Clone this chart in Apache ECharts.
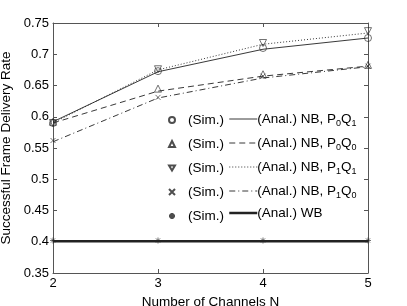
<!DOCTYPE html>
<html><head><meta charset="utf-8">
<script src="https://cdn.jsdelivr.net/npm/echarts@6/dist/echarts.min.js"></script>
<style>html,body{margin:0;padding:0;background:#fff}#c{width:407px;height:306px}</style>
</head><body><div id="c"></div>
<script>
const channels = [2, 3, 4, 5];
const yTicks = [0.35, 0.4, 0.45, 0.5, 0.55, 0.6, 0.65, 0.7, 0.75];
const simP0Q1 = [0.590, 0.673, 0.710, 0.726];
const analP0Q1 = [0.592, 0.672, 0.708, 0.726];
const simP0Q0 = [0.592, 0.645, 0.668, 0.683];
const analP0Q0 = [0.590, 0.641, 0.665, 0.681];
const simP1Q1 = [0.590, 0.676, 0.718, 0.737];
const analP1Q1 = [0.590, 0.675, 0.716, 0.734];
const simP1Q0 = [0.562, 0.631, 0.665, 0.681];
const analP1Q0 = [0.560, 0.630, 0.662, 0.680];
const simWB = [0.402, 0.402, 0.402, 0.402];
const analWB = [0.401, 0.401, 0.401, 0.401];
const labels = ['NB, P{s|0}Q{s|1}', 'NB, P{s|0}Q{s|0}', 'NB, P{s|1}Q{s|1}', 'NB, P{s|1}Q{s|0}', 'WB'];

const FONT = 'Liberation Sans, Arial, sans-serif';
const pairs = (arr) => channels.map((c, i) => [c, arr[i]]);
const sym = {
  circle: 'circle',
  tri: 'triangle',
  dtri: 'path://M0,0L10,0L5,8.66Z',
  cross: 'path://M0,0L10,10M10,0L0,10',
  star: 'path://M5,0L5,10M0,5L10,5M1.5,1.5L8.5,8.5M8.5,1.5L1.5,8.5'
};
const simDefs = [
  ['s0', simP0Q1, sym.circle, 7],
  ['s1', simP0Q0, sym.tri, 7],
  ['s2', simP1Q1, sym.dtri, 7],
  ['s3', simP1Q0, sym.cross, 5],
  ['s4', simWB, sym.star, 6]
];
const analDefs = [
  ['a0', analP0Q1, 'solid', 0.9],
  ['a1', analP0Q0, [6, 4], 0.9],
  ['a2', analP1Q1, [1, 2], 0.9],
  ['a3', analP1Q0, [6, 3, 1, 3], 0.9],
  ['a4', analWB, 'solid', 2.5]
];
const series = [];
analDefs.forEach((d, i) => {
  series.push({
    name: d[0], type: 'line', data: pairs(d[1]), symbol: 'none', silent: true,
    lineStyle: { color: '#222', width: d[3], type: d[2] },
    itemStyle: { color: '#222' }
  });
});
simDefs.forEach((d) => {
  series.push({
    name: d[0], type: 'scatter', data: pairs(d[1]), symbol: d[2], symbolSize: d[3],
    itemStyle: { color: 'rgba(0,0,0,0)', borderColor: '#222', borderWidth: 0.8 },
    z: 5
  });
});

const axisCol = '#555';
const option = {
  animation: false,
  backgroundColor: '#fff',
  grid: { left: 53, right: 39, top: 23, bottom: 33, outerBoundsMode: 'none', containLabel: false },
  xAxis: [
    { type: 'value', min: 2, max: 5, interval: 1, position: 'bottom',
      name: 'Number of Channels N', nameLocation: 'middle', nameGap: 16,
      nameTextStyle: { fontFamily: FONT, fontSize: 13.5, color: '#000' },
      axisLine: { lineStyle: { color: axisCol, width: 1 } },
      axisTick: { inside: true, length: 4, lineStyle: { color: axisCol } },
      axisLabel: { fontFamily: FONT, fontSize: 13, color: '#000', margin: 4 },
      splitLine: { show: false } },
    { type: 'value', min: 2, max: 5, interval: 1, position: 'top',
      axisLine: { lineStyle: { color: axisCol, width: 1 } },
      axisTick: { inside: true, length: 4, lineStyle: { color: axisCol } },
      axisLabel: { show: false }, splitLine: { show: false } }
  ],
  yAxis: [
    { type: 'value', min: 0.35, max: 0.75, interval: 0.05, position: 'left',
      name: 'Successful Frame Delivery Rate', nameLocation: 'middle', nameGap: 31,
      nameTextStyle: { fontFamily: FONT, fontSize: 13.5, color: '#000' },
      axisLine: { show: true, lineStyle: { color: axisCol, width: 1 } },
      axisTick: { show: true, inside: true, length: 4, lineStyle: { color: axisCol } },
      axisLabel: { fontFamily: FONT, fontSize: 13, color: '#000', margin: 4,
        formatter: (v) => String(+v.toFixed(2)) },
      splitLine: { show: false } },
    { type: 'value', min: 0.35, max: 0.75, interval: 0.05, position: 'right',
      axisLine: { show: true, lineStyle: { color: axisCol, width: 1 } },
      axisTick: { show: true, inside: true, length: 4, lineStyle: { color: axisCol } },
      axisLabel: { show: false }, splitLine: { show: false } }
  ],
  legend: [
    { orient: 'vertical', left: 163, top: 108, itemWidth: 6, itemHeight: 6, itemGap: 10,
      data: simDefs.map(d => d[0]), selectedMode: false,
      formatter: () => '(Sim.)',
      textStyle: { fontFamily: FONT, fontSize: 13.5, color: '#000', lineHeight: 14, padding: [0, 0, 0, 8] } },
    { orient: 'vertical', left: 223, top: 105, itemWidth: 28, itemHeight: 14, itemGap: 6,
      data: analDefs.map(d => ({ name: d[0], lineStyle: { width: d[3], type: d[2], color: '#222' } })),
      selectedMode: false,
      itemStyle: { opacity: 0 },
      formatter: (n) => '(Anal.) ' + labels[+n.slice(1)],
      textStyle: { fontFamily: FONT, fontSize: 13.5, color: '#000', padding: [0, 0, 0, -5], lineHeight: 14,
        rich: { s: { fontFamily: FONT, fontSize: 9, color: '#000', padding: [9, 0, 0, 0], lineHeight: 14 } } } }
  ],
  series: series
};
const chart = echarts.init(document.getElementById('c'), null, { renderer: 'canvas' });
chart.setOption(option);
</script></body></html>
